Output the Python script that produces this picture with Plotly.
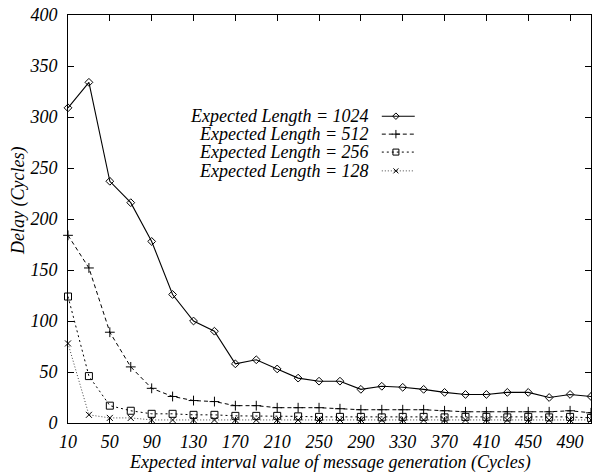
import plotly.graph_objects as go

x_vals = [10, 30, 50, 70, 90, 110, 130, 150, 170, 190, 210, 230, 250, 270, 290,
          310, 330, 350, 370, 390, 410, 430, 450, 470, 490, 510]

len_1024 = [309, 334, 237, 216, 178, 126, 100, 90, 58, 62, 53, 44, 41, 41, 33,
            36, 35, 33, 30, 28, 28, 30, 30, 25, 28, 26]
len_512 = [184, 152, 89, 55, 34, 26, 22, 21, 17, 17, 15, 15, 15, 14, 13,
           13, 13, 13, 12, 11, 11, 11, 11, 11, 12, 10]
len_256 = [124, 46, 17, 12, 9, 9, 8, 8, 7, 7, 7, 6.5, 6, 6, 6,
           5.5, 6, 6, 5.5, 6, 6, 5.5, 6, 5.5, 6, 5]
len_128 = [78, 8, 5, 5, 3, 3, 3, 3, 3, 3, 3, 3, 3, 3, 3,
           3, 3, 3, 3, 3, 3, 3, 3, 3, 3, 3]

series_names = ["Expected Length = 1024", "Expected Length = 512",
                "Expected Length = 256", "Expected Length = 128"]
x_ticks = list(range(10, 491, 40))
y_ticks = list(range(0, 401, 50))

styles = [
    dict(dash="solid", symbol="diamond-open", size=6, color="black", width=1.1),
    dict(dash="4px,3px", symbol="cross-thin-open", size=7, color="black", width=1),
    dict(dash="2px,3px", symbol="square-open", size=7, color="black", width=1),
    dict(dash="1px,2px", symbol="x-thin-open", size=6, color="#444444", width=1),
]

FONT = "Liberation Serif"
FS = 18
fig = go.Figure()
for name, ys, st in zip(series_names, [len_1024, len_512, len_256, len_128], styles):
    fig.add_trace(go.Scatter(
        x=x_vals, y=ys, mode="lines+markers", name=name, showlegend=False,
        cliponaxis=False,
        line=dict(color=st["color"], width=st["width"], dash=st["dash"]),
        marker=dict(symbol=st["symbol"], size=st["size"], color="black",
                    line=dict(color="black", width=1)),
    ))

# custom legend (text on left, sample on right) drawn on an overlay axis
leg_y = [0.752, 0.708, 0.664, 0.618]
for name, st, yy in zip(series_names, styles, leg_y):
    fig.add_trace(go.Scatter(
        x=[0.600, 0.663], y=[yy, yy], mode="lines", xaxis="x2", yaxis="y2",
        showlegend=False, hoverinfo="skip",
        line=dict(color=st["color"], width=st["width"], dash=st["dash"]),
    ))
    fig.add_trace(go.Scatter(
        x=[0.627], y=[yy], mode="markers", xaxis="x2", yaxis="y2",
        showlegend=False, hoverinfo="skip", cliponaxis=False,
        marker=dict(symbol=st["symbol"], size=st["size"] - 1, color="black",
                    line=dict(color="black", width=1)),
    ))
    fig.add_annotation(x=0.580, y=yy, xref="x2", yref="y2", text="<i>" + name + "</i>",
                       showarrow=False, xanchor="right", yanchor="middle",
                       font=dict(family=FONT, size=FS, color="black"))

axis_common = dict(
    showline=True, linecolor="black", linewidth=1, mirror="allticks",
    ticks="inside", ticklen=6, tickcolor="black", showgrid=False, zeroline=False,
    tickfont=dict(family=FONT, size=FS, color="black"),
)
fig.update_layout(
    width=592, height=473,
    margin=dict(l=68, r=1, t=15, b=50),
    paper_bgcolor="white", plot_bgcolor="white",
    font=dict(family=FONT),
    xaxis=dict(range=[10, 510], tickvals=x_ticks,
               ticktext=["<i>%d</i>" % v for v in x_ticks],
               ticklabelstandoff=2, **axis_common),
    yaxis=dict(range=[0, 400], tickvals=y_ticks,
               ticktext=["<i>%d</i>" % v for v in y_ticks],
               ticklabelstandoff=6, **axis_common),
    xaxis2=dict(range=[0, 1], overlaying="x", visible=False, anchor="y2"),
    yaxis2=dict(range=[0, 1], overlaying="y", visible=False, anchor="x2"),
)
fig.add_annotation(x=0.5, y=-0.098, xref="paper", yref="paper",
                   text="<i>Expected interval value of message generation (Cycles)</i>",
                   showarrow=False, xanchor="center", yanchor="middle",
                   font=dict(family=FONT, size=FS, color="black"))
fig.add_annotation(x=-0.0956, y=0.544, xref="paper", yref="paper",
                   text="<i>Delay (Cycles)</i>", textangle=-90,
                   showarrow=False, xanchor="center", yanchor="middle",
                   font=dict(family=FONT, size=FS, color="black"))

fig.write_html("out.html")
